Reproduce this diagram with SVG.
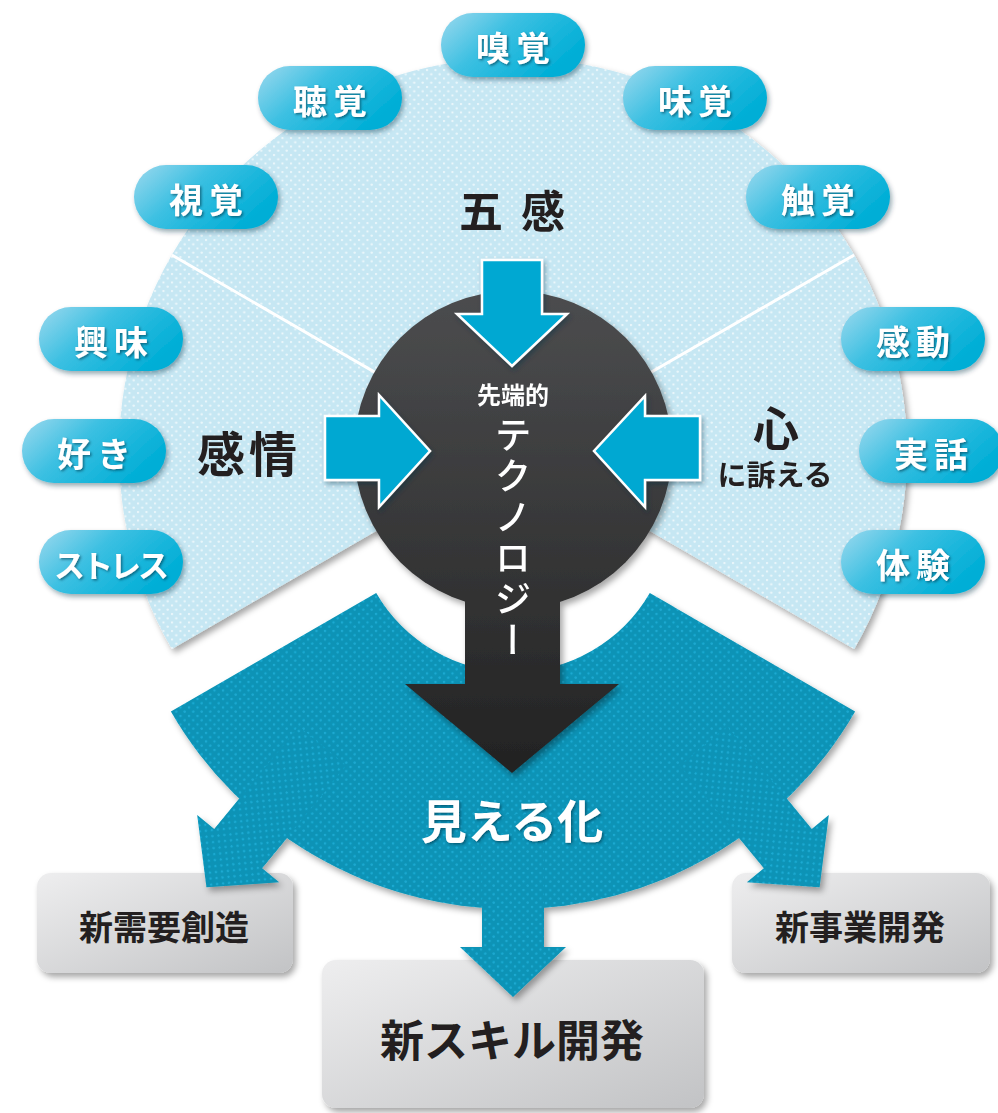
<svg xmlns="http://www.w3.org/2000/svg" width="998" height="1113" viewBox="0 0 998 1113">
<style>
.jp{font-family:"Noto Sans CJK JP","Noto Sans CJK SC",sans-serif;font-weight:700}
.pilltxt{fill:#fff;font-size:34px;letter-spacing:6px;text-anchor:middle;dominant-baseline:central;filter:url(#tsh)}
.dark{fill:#231f20}
.boxtxt{fill:#231f20;text-anchor:middle;dominant-baseline:central}
.inarrow{fill:#00a8d2;stroke:#fff;stroke-width:2.5;stroke-linejoin:miter}
</style>
<defs>
<pattern id="dotsLight" width="8.5" height="8.5" patternUnits="userSpaceOnUse">
<rect width="8.5" height="8.5" fill="#c6e7f3"/>
<circle cx="2" cy="2" r="1.15" fill="#fff" fill-opacity="0.7"/>
<circle cx="6.25" cy="6.25" r="1.15" fill="#fff" fill-opacity="0.7"/>
</pattern>
<pattern id="dotsDark" width="8.5" height="8.5" patternUnits="userSpaceOnUse">
<rect width="8.5" height="8.5" fill="#0793b6"/>
<circle cx="2" cy="2" r="1.3" fill="#1eaad2"/>
<circle cx="6.25" cy="6.25" r="1.3" fill="#1eaad2"/>
</pattern>
<linearGradient id="pillGrad" x1="0" y1="0" x2="1" y2="0.5">
<stop offset="0" stop-color="#9dd9ee"/>
<stop offset="0.45" stop-color="#3cc0e2"/>
<stop offset="1" stop-color="#00aed6"/>
</linearGradient>
<linearGradient id="boxGrad" x1="0" y1="0" x2="1" y2="1">
<stop offset="0" stop-color="#eeeeef"/>
<stop offset="1" stop-color="#c2c3c5"/>
</linearGradient>
<linearGradient id="techGrad" gradientUnits="userSpaceOnUse" x1="0" y1="290" x2="0" y2="775">
<stop offset="0" stop-color="#4c4d4f"/>
<stop offset="1" stop-color="#222222"/>
</linearGradient>
<filter id="sh" x="-10%" y="-10%" width="125%" height="130%">
<feDropShadow dx="3" dy="4" stdDeviation="3" flood-color="#000" flood-opacity="0.35"/>
</filter>
<filter id="shs" x="-10%" y="-10%" width="130%" height="140%">
<feDropShadow dx="2" dy="3" stdDeviation="2.5" flood-color="#003344" flood-opacity="0.4"/>
</filter>
<filter id="tsh" x="-10%" y="-20%" width="130%" height="150%">
<feDropShadow dx="1.5" dy="1.5" stdDeviation="1" flood-color="#00394d" flood-opacity="0.6"/>
</filter>
</defs>

<g id="fan-gokan">
<path d="M513,452 L854.2,649 A394 394 0 1 0 171.8,649 Z" fill="url(#dotsLight)" filter="url(#sh)"/>
<path d="M513,452 L171.8,255 M513,452 L854.2,255" stroke="#fff" stroke-width="3" fill="none"/>
</g>

<g id="box-shinjuyou">
<rect x="37" y="873" width="256" height="100" rx="14" fill="url(#boxGrad)" filter="url(#sh)"/>
<text x="164" y="925" class="jp boxtxt" font-size="34">新需要創造</text>
</g>
<g id="box-shinjigyou">
<rect x="732" y="873" width="258" height="100" rx="14" fill="url(#boxGrad)" filter="url(#sh)"/>
<text x="860" y="925" class="jp boxtxt" font-size="34">新事業開発</text>
</g>
<g id="box-shinskill">
<rect x="322" y="960" width="382" height="148" rx="14" fill="url(#boxGrad)" filter="url(#sh)"/>
<text x="512" y="1038" class="jp boxtxt" font-size="44">新スキル開発</text>
</g>

<g id="mieruka">
<g filter="url(#sh)">
<path d="M376.2,593 L170.9,711.5 A395 395 0 0 0 855.1,711.5 L649.8,593 A158 158 0 0 1 376.2,593 Z" fill="url(#dotsDark)"/>
<path d="M-31,300 L31,300 L31,433 L53,433 L0,483 L-53,433 L-31,433 Z" transform="translate(513 514) rotate(39.4)" fill="url(#dotsDark)"/>
<path d="M-31,300 L31,300 L31,433 L53,433 L0,483 L-53,433 L-31,433 Z" transform="translate(513 514)" fill="url(#dotsDark)"/>
<path d="M-31,300 L31,300 L31,433 L53,433 L0,483 L-53,433 L-31,433 Z" transform="translate(513 514) rotate(-39.4)" fill="url(#dotsDark)"/>
</g>
<text x="512" y="818" class="jp" font-size="46" fill="#fff" text-anchor="middle" dominant-baseline="central" filter="url(#tsh)">見える化</text>
</g>

<g id="tech">
<g filter="url(#sh)">
<path d="M465,560 L560,560 L560,684 L619,684 L512,773 L405,684 L465,684 Z" fill="url(#techGrad)"/>
<circle cx="513" cy="450" r="159" fill="url(#techGrad)"/>
</g>
<text x="513" y="393" class="jp" font-size="24" fill="#fff" text-anchor="middle" dominant-baseline="central">先端的</text>
<text x="513" y="416" font-family="'Noto Sans CJK JP',sans-serif" font-weight="500" font-size="37" letter-spacing="4" fill="#fff" writing-mode="vertical-rl">テクノロジー</text>
</g>

<g id="connectors" filter="url(#shs)">
<path class="inarrow" d="M482,260 L542,260 L542,314 L567,314 L512,366 L457,314 L482,314 Z"/>
<path class="inarrow" d="M325,416 L379,416 L379,395 L430,451 L379,507 L379,480 L325,480 Z"/>
<path class="inarrow" d="M700,416 L645,416 L645,396 L594,451 L645,507 L645,480 L700,480 Z"/>
</g>

<g id="label-gokan"><text x="521" y="209" class="jp dark" font-size="44" letter-spacing="18" text-anchor="middle" dominant-baseline="central">五感</text></g>
<g id="label-kanjou"><text x="249" y="451" class="jp dark" font-size="48" letter-spacing="4" text-anchor="middle" dominant-baseline="central">感情</text></g>
<g id="label-kokoro">
<text x="776" y="425" class="jp dark" font-size="46" text-anchor="middle" dominant-baseline="central">心</text>
<text x="775" y="473" class="jp dark" font-size="29" text-anchor="middle" dominant-baseline="central">に訴える</text>
</g>

<g id="pill-kyuukaku" filter="url(#shs)"><rect x="441" y="13" width="144" height="64" rx="32" fill="url(#pillGrad)"/></g>
<g id="pill-choukaku" filter="url(#shs)"><rect x="258" y="66" width="144" height="64" rx="32" fill="url(#pillGrad)"/></g>
<g id="pill-mikaku" filter="url(#shs)"><rect x="623" y="66" width="144" height="64" rx="32" fill="url(#pillGrad)"/></g>
<g id="pill-shikaku" filter="url(#shs)"><rect x="134" y="165" width="144" height="64" rx="32" fill="url(#pillGrad)"/></g>
<g id="pill-shokkaku" filter="url(#shs)"><rect x="746" y="165" width="144" height="64" rx="32" fill="url(#pillGrad)"/></g>
<g id="pill-kyoumi" filter="url(#shs)"><rect x="39" y="307" width="144" height="64" rx="32" fill="url(#pillGrad)"/></g>
<g id="pill-suki" filter="url(#shs)"><rect x="22" y="419" width="144" height="64" rx="32" fill="url(#pillGrad)"/></g>
<g id="pill-stress" filter="url(#shs)"><rect x="39" y="530" width="144" height="64" rx="32" fill="url(#pillGrad)"/></g>
<g id="pill-kandou" filter="url(#shs)"><rect x="841" y="307" width="144" height="64" rx="32" fill="url(#pillGrad)"/></g>
<g id="pill-jitsuwa" filter="url(#shs)"><rect x="859" y="419" width="144" height="64" rx="32" fill="url(#pillGrad)"/></g>
<g id="pill-taiken" filter="url(#shs)"><rect x="841" y="530" width="144" height="64" rx="32" fill="url(#pillGrad)"/></g>

<g id="pill-texts" class="jp">
<text x="516" y="46" class="jp pilltxt">嗅覚</text>
<text x="333" y="99" class="jp pilltxt">聴覚</text>
<text x="698" y="99" class="jp pilltxt">味覚</text>
<text x="209" y="198" class="jp pilltxt">視覚</text>
<text x="821" y="198" class="jp pilltxt">触覚</text>
<text x="114" y="340" class="jp pilltxt">興味</text>
<text x="97" y="452" class="jp pilltxt">好き</text>
<text x="110" y="563" class="jp pilltxt" style="letter-spacing:-3px;font-size:31px">ストレス</text>
<text x="916" y="340" class="jp pilltxt">感動</text>
<text x="934" y="452" class="jp pilltxt">実話</text>
<text x="916" y="563" class="jp pilltxt">体験</text>
</g>
</svg>
